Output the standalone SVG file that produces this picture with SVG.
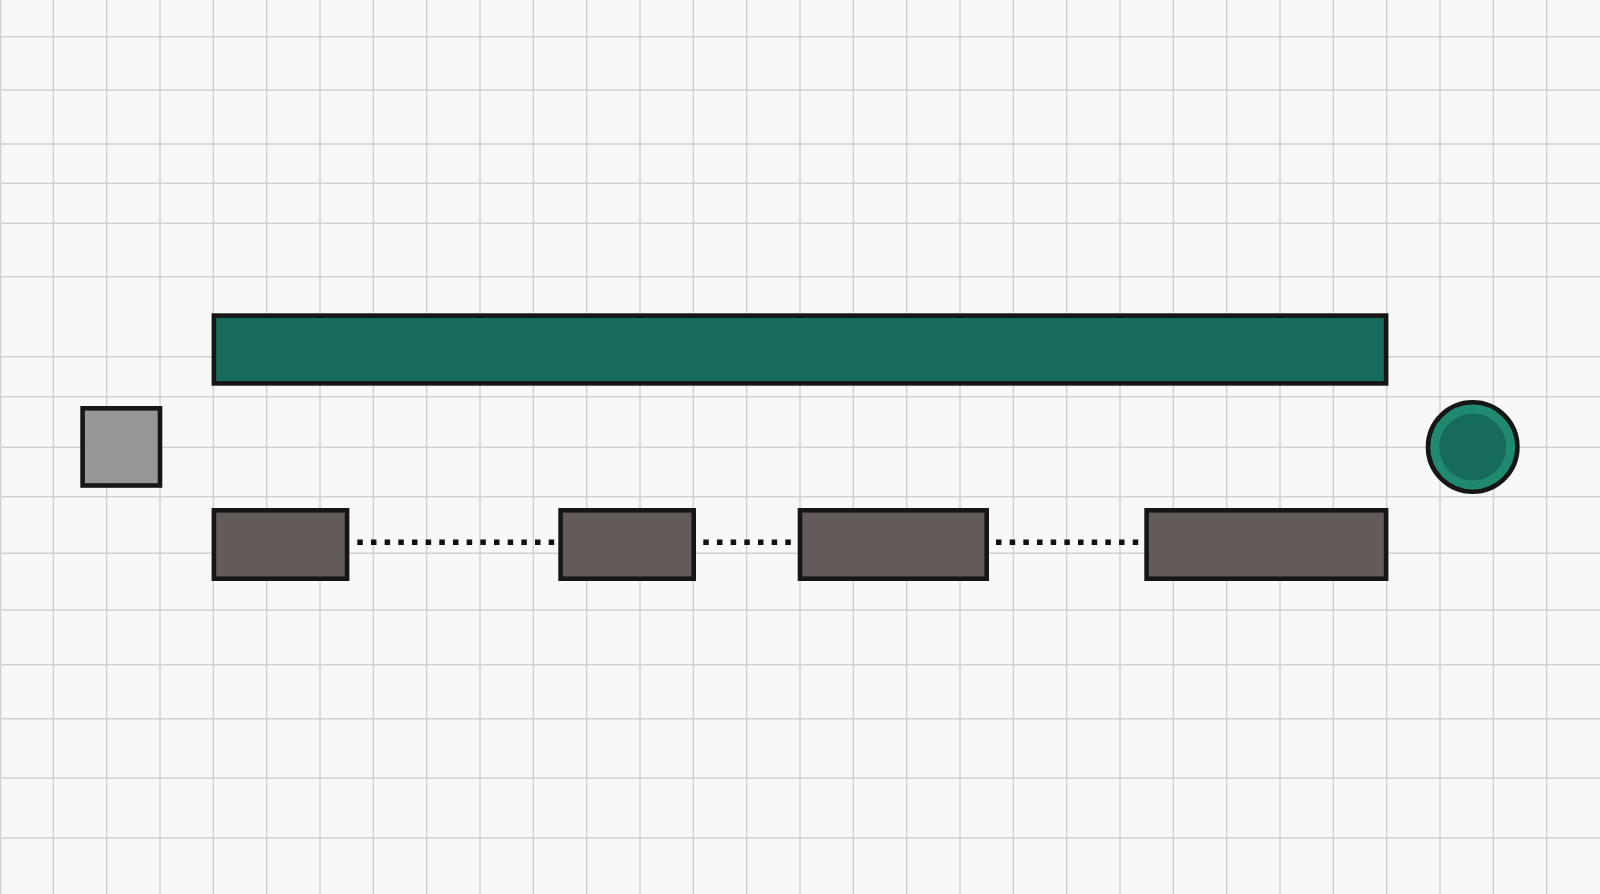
<svg xmlns="http://www.w3.org/2000/svg" width="1600" height="894" viewBox="0 0 1600 894">
<defs>
<style>
.grid line{stroke:#d3d2d1;stroke-width:1.4}
.node{stroke:#161616;stroke-width:4.6}
.bar{fill:#166b5b}
.seg{fill:#625b59}
.src{fill:#969696}
.dots{stroke:#111111;stroke-width:5.5;stroke-dasharray:5.5 8.17;fill:none}
</style>
</defs>
<rect width="1600" height="894" fill="#f8f8f7"/>
<g class="grid">
<line x1="53.33" y1="0" x2="53.33" y2="894"/><line x1="106.67" y1="0" x2="106.67" y2="894"/><line x1="160" y1="0" x2="160" y2="894"/><line x1="213.33" y1="0" x2="213.33" y2="894"/><line x1="266.67" y1="0" x2="266.67" y2="894"/><line x1="320" y1="0" x2="320" y2="894"/><line x1="373.33" y1="0" x2="373.33" y2="894"/><line x1="426.67" y1="0" x2="426.67" y2="894"/><line x1="480" y1="0" x2="480" y2="894"/><line x1="533.33" y1="0" x2="533.33" y2="894"/><line x1="586.67" y1="0" x2="586.67" y2="894"/><line x1="640" y1="0" x2="640" y2="894"/><line x1="693.33" y1="0" x2="693.33" y2="894"/><line x1="746.67" y1="0" x2="746.67" y2="894"/><line x1="800" y1="0" x2="800" y2="894"/><line x1="853.33" y1="0" x2="853.33" y2="894"/><line x1="906.67" y1="0" x2="906.67" y2="894"/><line x1="960" y1="0" x2="960" y2="894"/><line x1="1013.33" y1="0" x2="1013.33" y2="894"/><line x1="1066.67" y1="0" x2="1066.67" y2="894"/><line x1="1120" y1="0" x2="1120" y2="894"/><line x1="1173.33" y1="0" x2="1173.33" y2="894"/><line x1="1226.67" y1="0" x2="1226.67" y2="894"/><line x1="1280" y1="0" x2="1280" y2="894"/><line x1="1333.33" y1="0" x2="1333.33" y2="894"/><line x1="1386.67" y1="0" x2="1386.67" y2="894"/><line x1="1440" y1="0" x2="1440" y2="894"/><line x1="1493.33" y1="0" x2="1493.33" y2="894"/><line x1="1546.67" y1="0" x2="1546.67" y2="894"/><line x1="0.7" y1="0" x2="0.7" y2="894"/>
<line x1="0" y1="36.7" x2="1600" y2="36.7"/><line x1="0" y1="90" x2="1600" y2="90"/><line x1="0" y1="144" x2="1600" y2="144"/><line x1="0" y1="183.3" x2="1600" y2="183.3"/><line x1="0" y1="223.3" x2="1600" y2="223.3"/><line x1="0" y1="276.7" x2="1600" y2="276.7"/><line x1="0" y1="356.7" x2="1600" y2="356.7"/><line x1="0" y1="396.7" x2="1600" y2="396.7"/><line x1="0" y1="447.3" x2="1600" y2="447.3"/><line x1="0" y1="496.7" x2="1600" y2="496.7"/><line x1="0" y1="553.3" x2="1600" y2="553.3"/><line x1="0" y1="610" x2="1600" y2="610"/><line x1="0" y1="664.7" x2="1600" y2="664.7"/><line x1="0" y1="718.7" x2="1600" y2="718.7"/><line x1="0" y1="778" x2="1600" y2="778"/><line x1="0" y1="838" x2="1600" y2="838"/>
</g>
<g id="connectors">
<line class="dots" x1="357.3" y1="542.3" x2="554.5" y2="542.3"/>
<line class="dots" x1="703.3" y1="542.3" x2="791.5" y2="542.3"/>
<line class="dots" x1="996" y1="542.3" x2="1139" y2="542.3"/>
</g>
<g id="bar"><rect class="node bar" x="213.9" y="315.6" width="1172.2" height="67.8"/></g>
<g id="source"><rect class="node src" x="82.6" y="408.3" width="77.4" height="77.2"/></g>
<g id="seg1"><rect class="node seg" x="213.9" y="510.3" width="133.2" height="68.4"/></g>
<g id="seg2"><rect class="node seg" x="560.6" y="510.3" width="133.1" height="68.4"/></g>
<g id="seg3"><rect class="node seg" x="800" y="510.3" width="186.7" height="68.4"/></g>
<g id="seg4"><rect class="node seg" x="1146.6" y="510.3" width="239.5" height="68.4"/></g>
<g id="sink">
<circle cx="1472.7" cy="447" r="44.7" fill="#1f8a70" stroke="#161616" stroke-width="4.6"/>
<circle cx="1472.7" cy="447" r="33.5" fill="#176b5b"/>
</g>
</svg>
